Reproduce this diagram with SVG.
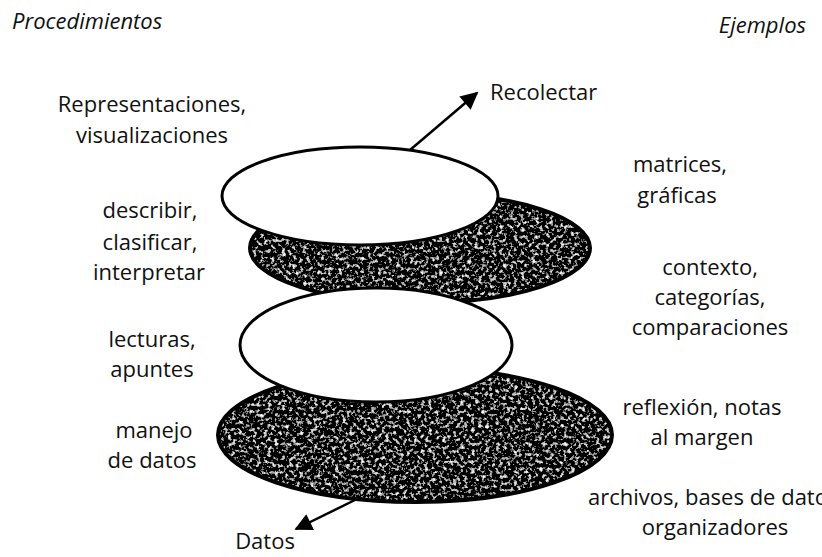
<svg xmlns="http://www.w3.org/2000/svg" width="822" height="557" viewBox="0 0 822 557">
<defs>
<filter id="speckle" x="0" y="0" width="100%" height="100%">
<feTurbulence type="fractalNoise" baseFrequency="0.28" numOctaves="3" seed="7" result="n"/>
<feColorMatrix in="n" type="matrix" values="1 0 0 0 0  1 0 0 0 0  1 0 0 0 0  0 0 0 0 1" result="g"/>
<feComponentTransfer in="g" result="c">
<feFuncR type="linear" slope="3.5" intercept="-1.85"/>
<feFuncG type="linear" slope="3.5" intercept="-1.85"/>
<feFuncB type="linear" slope="3.5" intercept="-1.85"/>
</feComponentTransfer>
<feComposite in="c" in2="SourceGraphic" operator="in"/>
</filter>
<marker id="arrow" viewBox="0 0 10 10" refX="9" refY="5" markerWidth="9" markerHeight="7" markerUnits="strokeWidth" orient="auto">
<path d="M0,0 L10,5 L0,10 z" fill="#000"/>
</marker>
</defs>
<style>
text{font-family:"Open Sans","Liberation Sans",sans-serif;font-size:22px;fill:#111}
.h{font-style:italic;font-size:22px}
.c{text-anchor:middle}
.white{fill:#fff;stroke:#000;stroke-width:3}
.dark{fill:#333}
.rim{fill:none;stroke:#000;stroke-width:4}
.conn{stroke:#000;stroke-width:2.5;fill:none;marker-end:url(#arrow)}
</style>
<rect width="822" height="557" fill="#fff"/>
<text class="h" x="12" y="29">Procedimientos</text>
<text class="h" x="806" y="33" text-anchor="end">Ejemplos</text>
<g id="connectors">
<line class="conn" x1="410" y1="150" x2="477" y2="93"/>
<line class="conn" x1="357" y1="499" x2="296" y2="529"/>
</g>
<g id="layer4">
<ellipse class="dark" cx="415" cy="435" rx="197" ry="67" filter="url(#speckle)"/>
<ellipse class="rim" cx="415" cy="435" rx="197" ry="67"/>
</g>
<g id="layer2">
<ellipse class="dark" cx="420" cy="248" rx="170" ry="55" filter="url(#speckle)"/>
<ellipse class="rim" cx="420" cy="248" rx="170" ry="55"/>
</g>
<g id="layer3">
<ellipse class="white" cx="376" cy="345" rx="136" ry="57"/>
</g>
<g id="layer1">
<ellipse class="white" cx="360" cy="196" rx="138" ry="49"/>
</g>
<g id="labels">
<text x="490" y="100">Recolectar</text>
<text class="c" x="152" y="112">Representaciones,</text>
<text class="c" x="152" y="143">visualizaciones</text>
<text class="c" x="680" y="172">matrices,</text>
<text class="c" x="677" y="203">gráficas</text>
<text class="c" x="150" y="218">describir,</text>
<text class="c" x="150" y="250">clasificar,</text>
<text class="c" x="149" y="280">interpretar</text>
<text class="c" x="710" y="275">contexto,</text>
<text class="c" x="710" y="305">categorías,</text>
<text class="c" x="710" y="335">comparaciones</text>
<text class="c" x="152" y="347">lecturas,</text>
<text class="c" x="152" y="377">apuntes</text>
<text class="c" x="702" y="415">reflexión, notas</text>
<text class="c" x="702" y="445">al margen</text>
<text class="c" x="154" y="438">manejo</text>
<text class="c" x="152" y="468">de datos</text>
<text x="588" y="505">archivos, bases de datos,</text>
<text class="c" x="715" y="535">organizadores</text>
<text class="c" x="265" y="549">Datos</text>
</g>
</svg>
